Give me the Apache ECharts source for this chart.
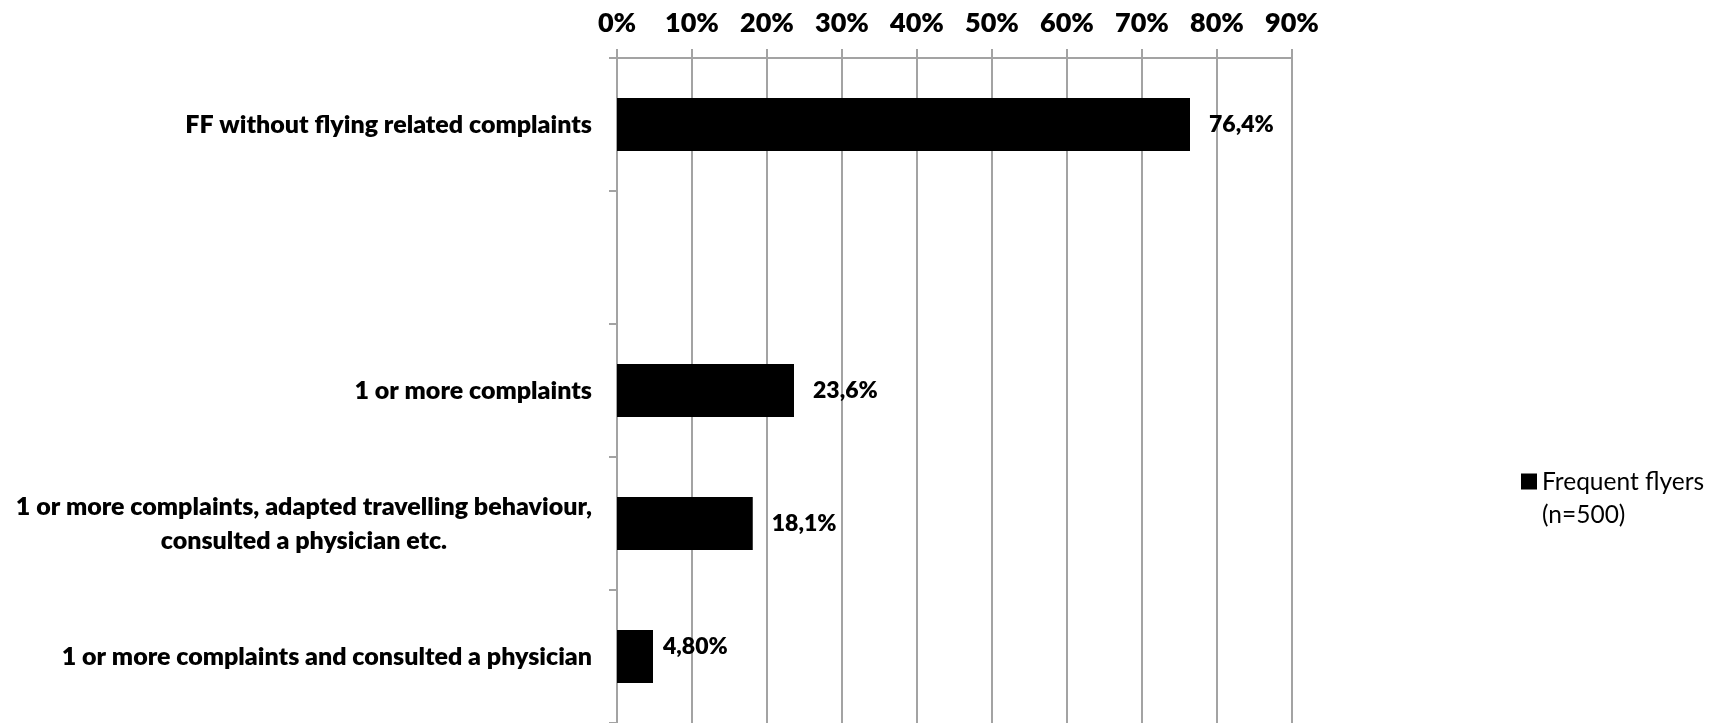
<!DOCTYPE html>
<html>
<head>
<meta charset="utf-8">
<script src="https://cdn.jsdelivr.net/npm/echarts@6/dist/echarts.min.js"></script>
<style>
  html, body { margin: 0; padding: 0; background: #fff; }
  #chart { width: 1717px; height: 723px; }
</style>
</head>
<body>
<div id="chart"></div>
<script>
const categories = [
  'FF without flying related complaints',
  '',
  '1 or more complaints',
  '1 or more complaints, adapted travelling behaviour,\nconsulted a physician etc.',
  '1 or more complaints and consulted a physician'
];
const values = [76.4, null, 23.6, 18.1, 4.8];
const valueLabels = ['76,4%', '', '23,6%', '18,1%', '4,80%'];
const seriesName = 'Frequent flyers\n(n=500)';
const xMin = 0, xMax = 90, xStep = 10;

const FONT = 'Lato';
const HEAVY = 800;
const GRAY = '#a3a3a3';

const chart = echarts.init(document.getElementById('chart'), null, { renderer: 'canvas' });

const barData = values.map((v, i) => {
  if (i === values.length - 1) {
    return { value: v, label: { distance: 10, offset: [0, -10] } };
  }
  return v;
});

chart.setOption({
  animation: false,
  backgroundColor: '#ffffff',
  grid: { left: 617, right: 425, top: 58, bottom: 0, containLabel: false },
  legend: {
    show: true,
    left: 1516,
    top: 461,
    orient: 'vertical',
    itemWidth: 16,
    itemHeight: 51,
    icon: 'path://M0,0L16,0L16,16L0,16Z M0,51L0.01,51L0.01,50.99Z',
    textStyle: { fontFamily: FONT, fontSize: 24.5, lineHeight: 33, color: '#000' },
    data: [seriesName]
  },
  xAxis: {
    type: 'value',
    position: 'top',
    min: xMin,
    max: xMax,
    interval: xStep,
    axisLine: { show: true, lineStyle: { color: GRAY, width: 2 } },
    axisTick: { show: true, length: 9, inside: false, lineStyle: { color: GRAY, width: 2 } },
    splitLine: { show: true, lineStyle: { color: GRAY, width: 2 } },
    axisLabel: {
      margin: 21,
      formatter: '{value}%',
      fontFamily: FONT,
      fontWeight: HEAVY,
      fontSize: 27,
      color: '#000'
    }
  },
  yAxis: {
    type: 'category',
    inverse: true,
    data: categories,
    axisLine: { show: true, lineStyle: { color: GRAY, width: 2 } },
    axisTick: { show: true, length: 8, lineStyle: { color: GRAY, width: 2 } },
    splitLine: { show: false },
    axisLabel: {
      margin: 25,
      align: 'right',
      fontFamily: FONT,
      fontWeight: HEAVY,
      fontSize: 25,
      color: '#000',
      formatter: function (val) {
        if (!val) return '';
        return val.split('\n').map(l => '{c|' + l + '}').join('\n');
      },
      rich: {
        c: { align: 'center', fontFamily: FONT, fontWeight: HEAVY, fontSize: 25, lineHeight: 34, color: '#000' }
      }
    }
  },
  series: [{
    name: seriesName,
    type: 'bar',
    data: barData,
    barWidth: '40%',
    itemStyle: { color: '#000000' },
    label: {
      show: true,
      position: 'right',
      distance: 19,
      fontFamily: FONT,
      fontWeight: HEAVY,
      fontSize: 23,
      color: '#000',
      formatter: p => valueLabels[p.dataIndex]
    }
  }]
});
</script>
</body>
</html>
